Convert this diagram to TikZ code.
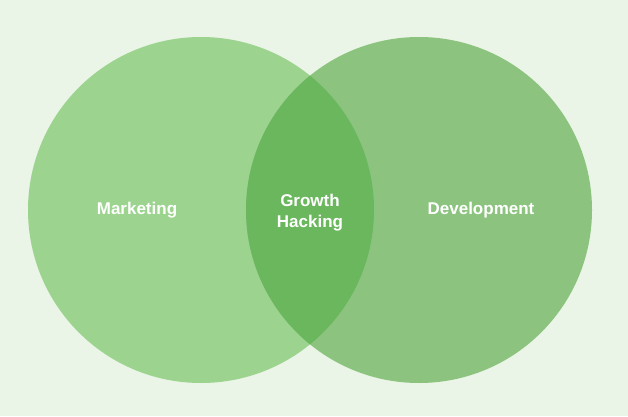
\documentclass[tikz,border=0pt]{standalone}
\usepackage{fontspec}
\setmainfont{Liberation Sans}
\usetikzlibrary{positioning}
\definecolor{bgback}{HTML}{EAF5E7}
\definecolor{mktgreen}{HTML}{9CD48F}
\definecolor{devgreen}{HTML}{8CC47F}
\definecolor{hackgreen}{HTML}{6AB75D}
\begin{document}
\begin{tikzpicture}[x=1pt,y=1pt,
		setname/.style={text=white,font=\bfseries\fontsize{17}{21}\selectfont,align=center}
		]
		\useasboundingbox (0,0) rectangle (628,416);
		\fill[bgback] (0,0) rectangle (628,416);
		
		%% circles
		\coordinate (mktc) at (201,206);
		\coordinate (devc) at (419,206);
		\fill[mktgreen] (mktc) circle (173);
		\fill[devgreen] (devc) circle (173);
		\begin{scope}
			\clip (mktc) circle (173);
			\fill[hackgreen] (devc) circle (173);
		\end{scope}
		
		%% labels
		\node[setname] (mkt) at (137,206) {Marketing};
		\node[setname] (hack) at (310,203) {Growth\\Hacking};
		\node[setname] (dev) at (481,206) {Development};
	\end{tikzpicture}
\end{document}
